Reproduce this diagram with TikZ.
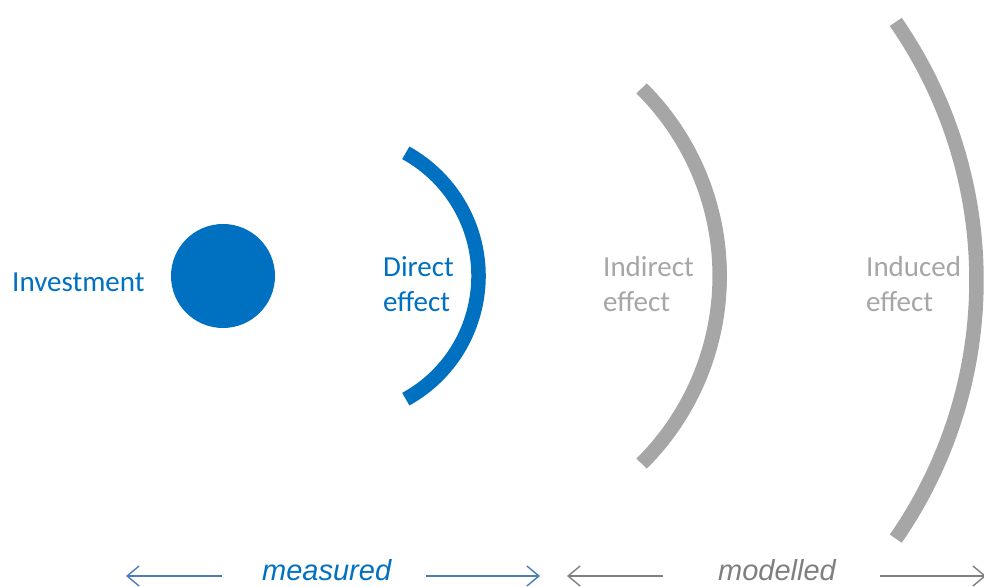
\documentclass[tikz,border=0pt]{standalone}
\usepackage{fontspec}
\setmainfont{Carlito}
\newfontfamily\arialfont{Liberation Sans}
\usetikzlibrary{arrows.meta}
\definecolor{mblue}{HTML}{0070C0}
\definecolor{arrowblue}{HTML}{4A7EBB}
\definecolor{arcgray}{HTML}{A6A6A6}
\definecolor{labgray}{HTML}{A6A6A6}
\definecolor{modgray}{HTML}{7F7F7F}
\tikzset{
  lab/.style={inner sep=0pt, anchor=base west, font=\fontsize{29}{35}\selectfont},
  bottomlab/.style={inner sep=0pt, anchor=base west, font=\arialfont\itshape\fontsize{29}{34}\selectfont},
  arcline/.style={line width=14.5pt, line cap=butt},
  spanarrow/.style={line width=1.4pt, -{Straight Barb[length=12pt, width=20pt, line width=1.4pt]}},
}
\begin{document}
\begin{tikzpicture}[x=1pt, y=1pt]
\useasboundingbox (0,0) rectangle (984,586);
\clip (0,0) rectangle (984,586);
% investment dot
\fill[mblue] (223,310) circle[radius=52pt];
\node[lab, text=mblue] (inv) at (12,294) {Investment};
% arcs
\coordinate (cdir) at (337.8,310);
\coordinate (cind) at (455.3,310);
\coordinate (cinu) at (522.6,305.7);
\draw[arcline, mblue] ([shift={(-61.1:140.7pt)}]cdir) arc[start angle=-61.1, end angle=61.1, radius=140.7pt];
\draw[arcline, arcgray] ([shift={(-45.2:264.4pt)}]cind) arc[start angle=-45.2, end angle=45.2, radius=264.4pt];
\draw[arcline, arcgray] ([shift={(-34.7:453.9pt)}]cinu) arc[start angle=-34.7, end angle=34.7, radius=453.9pt];
% labels
\node[lab, text=mblue] (dir1) at (383,309) {Direct};
\node[lab, text=mblue] (dir2) at (383,274) {effect};
\node[lab, text=labgray] (ind1) at (603,309) {Indirect};
\node[lab, text=labgray] (ind2) at (603,274) {effect};
\node[lab, text=labgray] (inu1) at (866,309) {Induced};
\node[lab, text=labgray] (inu2) at (866,274) {effect};
% bottom spans
\node[bottomlab, text=mblue] (meas) at (262,6) {measured};
\node[bottomlab, text=modgray] (mod) at (718,6) {modelled};
\coordinate (m1a) at (222,10); \coordinate (m1b) at (126,10);
\coordinate (m2a) at (426,10); \coordinate (m2b) at (540,10);
\coordinate (d1a) at (663,10); \coordinate (d1b) at (567,10);
\coordinate (d2a) at (880,10); \coordinate (d2b) at (986,10);
\draw[spanarrow, arrowblue] (m1a) -- (m1b);
\draw[spanarrow, arrowblue] (m2a) -- (m2b);
\draw[spanarrow, modgray] (d1a) -- (d1b);
\draw[spanarrow, modgray] (d2a) -- (d2b);
\end{tikzpicture}
\end{document}
